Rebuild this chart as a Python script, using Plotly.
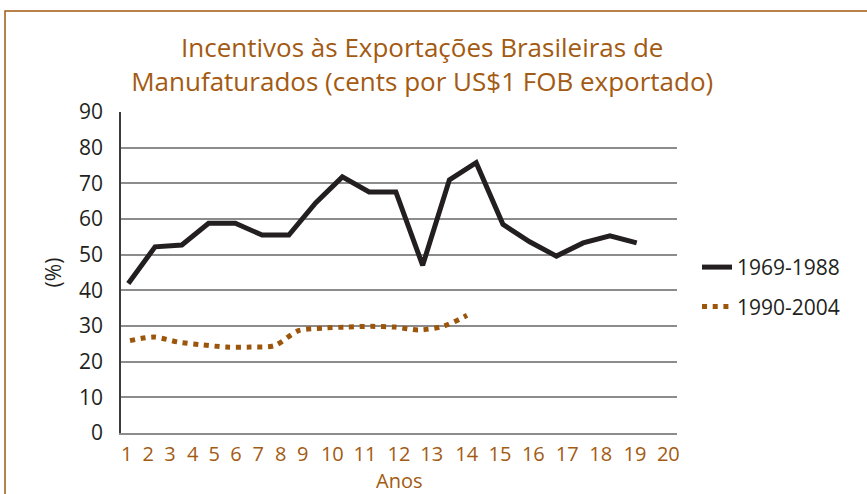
import plotly.graph_objects as go

# Export incentive series (cents per US$1 FOB exported)
years_1969_1988 = list(range(1969, 1989))
incentive_1969_1988 = [41.9, 52.2, 52.7, 58.8, 58.8, 55.5, 55.5, 64.5, 71.8, 67.6,
                       67.6, 47.0, 71.0, 75.8, 58.5, 53.6, 49.6, 53.3, 55.3, 53.3]

years_1990_2004 = list(range(1990, 2005))
incentive_1990_2004 = [25.9, 26.9, 25.5, 24.7, 24.1, 24.1, 24.5, 28.7, 29.4, 29.7,
                       29.9, 29.7, 28.9, 29.9, 33.0]

# Axis labels shown under the chart
x_tick_labels = [str(i) for i in range(1, 21)]
y_ticks = list(range(0, 100, 10))

# Where the "Anos" labels sit along the bottom edge (fraction of plot width)
x_tick_pos = [0.0102, 0.0491, 0.0881, 0.1290, 0.1678, 0.2068, 0.2470, 0.2872,
              0.3268, 0.3801, 0.4388, 0.5000, 0.5588, 0.6217, 0.6817, 0.7416,
              0.8027, 0.8628, 0.9245, 0.9844]

# Horizontal extents of each period's axis
X1_RANGE = [1968.727, 1989.506]
X2_RANGE = [1989.626, 2012.72]
x_tick_vals = [X1_RANGE[0] + f * (X1_RANGE[1] - X1_RANGE[0]) for f in x_tick_pos]

BROWN = "#a35a12"
DOT_BROWN = "#9c560c"
INK = "#231f20"
FONT = "Open Sans"

fig = go.Figure()

fig.add_trace(go.Scatter(
    x=years_1969_1988, y=incentive_1969_1988, xaxis="x",
    mode="lines", name="1969-1988",
    line=dict(color=INK, width=5),
    legendgroup="a",
))
fig.add_trace(go.Scatter(
    x=years_1990_2004, y=incentive_1990_2004, xaxis="x2",
    mode="lines", name="1990-2004",
    line=dict(color=DOT_BROWN, width=5, dash="5px,5.7px", shape="spline", smoothing=0.8),
    legendgroup="b",
))

fig.update_layout(
    width=867, height=494,
    margin=dict(l=121, r=190, t=112, b=61),
    paper_bgcolor="white", plot_bgcolor="white",
    font=dict(family=FONT, size=21, color=INK),
    title=dict(
        text="Incentivos às Exportações Brasileiras de<br>Manufaturados (cents por US$1 FOB exportado)",
        x=0.487, xanchor="center", y=0.885, yanchor="top",
        font=dict(family=FONT, size=26, color=BROWN),
    ),
    showlegend=True,
    legend=dict(
        x=1.036, xanchor="left", y=0.455, yanchor="middle",
        font=dict(family=FONT, size=21, color=INK),
        tracegroupgap=9, bgcolor="rgba(0,0,0,0)",
    ),
    xaxis=dict(
        range=X1_RANGE, tickmode="array", tickvals=x_tick_vals, ticktext=x_tick_labels,
        tickfont=dict(family=FONT, size=20, color=BROWN),
        showgrid=False, zeroline=False,
        showline=True, linecolor="#8c8c8c", linewidth=1.5,
        ticks="", ticklabelstandoff=2, automargin=False,
    ),
    xaxis2=dict(
        overlaying="x", range=X2_RANGE, visible=False,
    ),
    yaxis=dict(
        range=[0, 90], tickmode="array", tickvals=y_ticks,
        tickfont=dict(family=FONT, size=21, color=INK),
        showgrid=True, gridcolor="#8c8c8c", gridwidth=1.5,
        zeroline=False, automargin=False,
        showline=True, linecolor="#3b3b3b", linewidth=1.5,
        ticks="", ticklabelstandoff=12,
        title=dict(text="(%)", font=dict(family=FONT, size=21, color=INK), standoff=12),
    ),
    annotations=[dict(
        text="Anos", xref="paper", yref="paper", x=0.5, y=-0.1464,
        xanchor="center", yanchor="middle", showarrow=False,
        height=20, borderpad=0,
        font=dict(family=FONT, size=20, color=BROWN),
    )],
    shapes=[dict(
        type="rect", xref="paper", yref="paper",
        x0=-0.2086, x1=1.36, y0=-0.25, y1=1.3146,
        line=dict(color=BROWN, width=1.5), layer="below",
    )],
)

fig.write_html("out.html")
